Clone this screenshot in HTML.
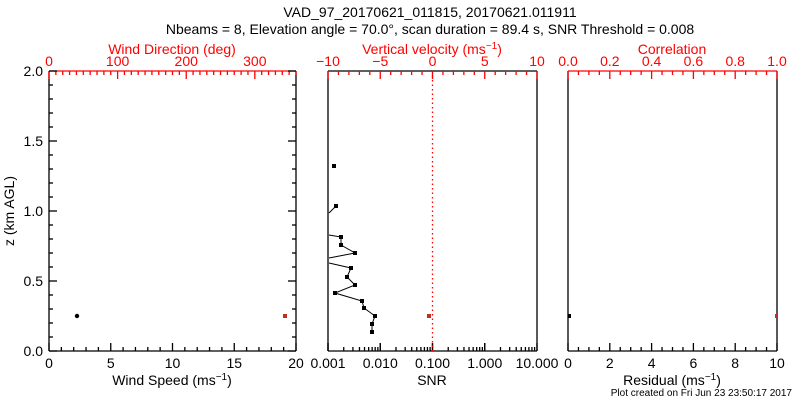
<!DOCTYPE html>
<html><head><meta charset="utf-8"><style>
html,body{margin:0;padding:0;background:#fff;}
svg{display:block;font-family:"Liberation Sans",sans-serif;}
</style></head><body>
<svg id="s" width="800" height="400" viewBox="0 0 800 400" xmlns="http://www.w3.org/2000/svg">
<text x="430" y="17" font-size="14" text-anchor="middle">VAD_97_20170621_011815, 20170621.011911</text>
<text x="430" y="34" font-size="14" text-anchor="middle">Nbeams = 8, Elevation angle = 70.0°, scan duration = 89.4 s, SNR Threshold = 0.008</text>
<text x="172" y="54" font-size="14" fill="#f00" text-anchor="middle">Wind Direction (deg)</text>
<text x="432" y="54" font-size="14" fill="#f00" text-anchor="middle">Vertical velocity (ms<tspan dy="-5" font-size="10">−1</tspan><tspan dy="5">)</tspan></text>
<text x="672" y="54" font-size="14" fill="#f00" text-anchor="middle">Correlation</text>
<text x="172" y="385" font-size="14" text-anchor="middle">Wind Speed (ms<tspan dy="-5" font-size="10">−1</tspan><tspan dy="5">)</tspan></text>
<text x="432" y="385" font-size="14" text-anchor="middle">SNR</text>
<text x="672" y="385" font-size="14" text-anchor="middle">Residual (ms<tspan dy="-5" font-size="10">−1</tspan><tspan dy="5">)</tspan></text>
<text x="792" y="396" font-size="10" text-anchor="end">Plot created on Fri Jun 23 23:50:17 2017</text>
<text transform="translate(14,211) rotate(-90)" font-size="14" text-anchor="middle">z (km AGL)</text>
<g id="g"></g>
</svg>
<script>
var g=document.getElementById('g'),o='';
function L(x1,y1,x2,y2,c,extra){o+='<line x1="'+x1+'" y1="'+y1+'" x2="'+x2+'" y2="'+y2+'" stroke="'+(c||'#000')+'" stroke-width="1.3" '+(extra||'')+'/>';}
function T(x,y,t,c,a){o+='<text x="'+x+'" y="'+y+'" font-size="14" fill="'+(c||'#000')+'" text-anchor="'+(a||'middle')+'">'+t+'</text>';}
var Y0=351,Y1=71;
var A=49,B=296;
L(A,Y0,B,Y0);L(A,Y1,A,Y0);L(B,Y1,B,Y0);L(A,Y1,B,Y1,'#f00');
for(var i=0;i<=20;i++){var x=A+(B-A)*i/20;L(x,Y0,x,Y0-(i%5?4:8));if(i%5==0)T(x,368,i);}
for(var d=0;d<=360;d+=10){var x=A+(B-A)*d/360;L(x,Y1,x,Y1+(d%100?4:8),'#f00');if(d%100==0)T(x,66,d,'#f00');}
for(var k=0;k<=20;k++){var y=Y0-(Y0-Y1)*k/20;var len=k%5?4:8;L(A,y,A+len,y);L(B,y,B-len,y);if(k%5==0)T(A-6,y+5,(k/10).toFixed(1),'#000','end');}
o+='<circle cx="77" cy="316" r="2.2" fill="#000"/><rect x="283" y="314" width="4" height="4" fill="#c03020"/>';
A=328;B=537;
L(A,Y0,B,Y0);L(A,Y1,A,Y0);L(B,Y1,B,Y0);L(A,Y1,B,Y1);
var dec=(B-A)/4;
var labs=['0.001','0.010','0.100','1.000','10.000'];
for(var j=0;j<4;j++)for(var m=1;m<10;m++){var x=A+dec*(j+Math.log10(m));L(x,Y0,x,Y0-(m==1?8:4));}
for(var j=0;j<=4;j++){var x=A+dec*j;L(x,Y0,x,Y0-8);T(x,368,labs[j]);}
for(var v=-10;v<=10;v++){var x=A+(B-A)*(v+10)/20;L(x,Y1,x,Y1+(v%5?4:8),'#f00');if(v%5==0)T(x,66,v<0?'−'+(-v):v,'#f00');}
L(432.5,Y1,432.5,Y0,'#f00','stroke-dasharray="1.5,3"');
var pts=[[372,332],[372,324],[375,316],[364,308],[362,301],[335,293],[355,285],[347,277],[351,268],[329,263]];
var pts2=[[329,258],[355,253],[341,245],[341,237],[329,235]];
var pts3=[[329,213],[336,206]];
[pts,pts2,pts3].forEach(function(p){o+='<polyline fill="none" stroke="#000" stroke-width="1" points="'+p.map(function(q){return q.join(',')}).join(' ')+'"/>';});
[[372,332],[372,324],[375,316],[364,308],[362,301],[335,293],[355,285],[347,277],[351,268],[355,253],[341,245],[341,237],[336,206],[334,166]].forEach(function(q){o+='<rect x="'+(q[0]-2)+'" y="'+(q[1]-2)+'" width="4" height="4" fill="#000"/>';});
o+='<rect x="427" y="314" width="4" height="4" fill="#c03020"/>';
A=568;B=777;
L(A,Y0,B,Y0);L(A,Y1,A,Y0);L(B,Y1,B,Y0);L(A,Y1,B,Y1,'#f00');
for(var i=0;i<=20;i++){var x=A+(B-A)*i/20;L(x,Y0,x,Y0-(i%4?4:8));if(i%4==0)T(x,368,i/2);}
for(var i=0;i<=20;i++){var x=A+(B-A)*i/20;L(x,Y1,x,Y1+(i%4?4:8),'#f00');if(i%4==0)T(x,66,(i/20).toFixed(1),'#f00');}
o+='<rect x="568" y="314" width="3" height="4" fill="#000"/><rect x="775" y="314" width="3" height="4" fill="#c03020"/>';
g.innerHTML=o;
</script>
</body></html>
